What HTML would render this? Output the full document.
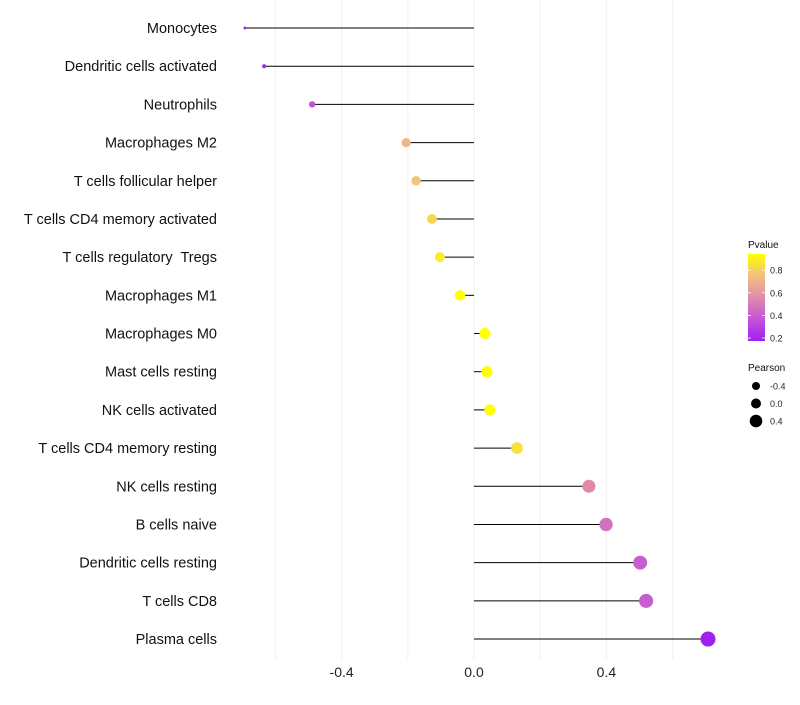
<!DOCTYPE html>
<html><head><meta charset="utf-8"><style>
body{margin:0;background:#fff;font-family:"Liberation Sans",sans-serif;}
</style></head><body>
<svg id="c" width="800" height="700"></svg>
<script>
const categories=["Monocytes","Dendritic cells activated","Neutrophils","Macrophages M2","T cells follicular helper","T cells CD4 memory activated","T cells regulatory  Tregs","Macrophages M1","Macrophages M0","Mast cells resting","NK cells activated","T cells CD4 memory resting","NK cells resting","B cells naive","Dendritic cells resting","T cells CD8","Plasma cells"];
const pearson=[-0.692,-0.634,-0.489,-0.205,-0.175,-0.127,-0.103,-0.042,0.033,0.039,0.048,0.130,0.347,0.399,0.502,0.520,0.707];
const pvalues=[0.2,0.22,0.36,0.72,0.76,0.82,0.88,0.95,0.95,0.95,0.95,0.85,0.55,0.47,0.4,0.4,0.18];
const xTicks=[-0.4,0.0,0.4];
const xMinor=[-0.6,-0.2,0.2,0.6];
const legendP=[0.8,0.6,0.4,0.2];
const legendS=[-0.4,0.0,0.4];
const NS="http://www.w3.org/2000/svg";
const svg=document.getElementById('c');
const xs=v=>474+v*331;
const ys=i=>28+i*38.19;
const rs=v=>Math.sqrt(Math.max(2.25,29.1+38.8*v));
const stops=[[160,32,240],[196,84,216],[224,140,168],[242,192,128],[255,255,0]];
function col(p){const t=Math.max(0,Math.min(1,(p-0.18)/0.76))*4;const i=Math.min(3,Math.floor(t)),f=t-i;
const a=stops[i],b=stops[i+1];return `rgb(${a.map((x,k)=>Math.round(x+(b[k]-x)*f)).join(',')})`;}
function mk(t,at,parent){const e=document.createElementNS(NS,t);for(const k in at)e.setAttribute(k,at[k]);(parent||svg).appendChild(e);return e;}
xMinor.forEach(v=>{const l=mk('line',{x1:xs(v),x2:xs(v),y1:0,y2:660,stroke:'#f2f2f2','stroke-width':1});

});
xTicks.forEach(v=>{const l=mk('line',{x1:xs(v),x2:xs(v),y1:0,y2:660,stroke:'#f2f2f2','stroke-width':1});


const t=mk('text',{x:xs(v),y:677,'text-anchor':'middle','font-size':14,fill:'#222'});t.textContent=v.toFixed(1);

});
categories.forEach((c,i)=>{const y=ys(i);
const t=mk('text',{x:217,y:y+5,'text-anchor':'end','font-size':14.5,fill:'#111'});t.textContent=c;
t.style.whiteSpace='pre';


const l=mk('line',{x1:xs(0),x2:xs(pearson[i]),y1:y,y2:y,stroke:'#000','stroke-width':1});


const d=mk('circle',{cx:xs(pearson[i]),cy:y,r:rs(pearson[i]),fill:col(pvalues[i])});

});
const g=mk('g',{});
const tt=mk('text',{x:748,y:248,'font-size':10,fill:'#111'},g);tt.textContent='Pvalue';
const defs=mk('defs',{},svg);const gr=mk('linearGradient',{id:'pg',x1:0,y1:1,x2:0,y2:0},defs);
stops.forEach((s,i)=>mk('stop',{offset:i/4,'stop-color':`rgb(${s.join(',')})`},gr));
mk('rect',{x:748,y:254,width:17,height:87,fill:'url(#pg)'},g);
legendP.forEach(p=>{const y=338-(p-0.2)/0.2*22.6;
mk('line',{x1:748,x2:751,y1:y,y2:y,stroke:'#fff','stroke-width':0.8},g);mk('line',{x1:762,x2:765,y1:y,y2:y,stroke:'#fff','stroke-width':0.8},g);
const t=mk('text',{x:770,y:y+3.5,'font-size':9,fill:'#222'},g);t.textContent=p.toFixed(1);});
const g2=mk('g',{});
const t2=mk('text',{x:748,y:371,'font-size':10,fill:'#111'},g2);t2.textContent='Pearson';
legendS.forEach((v,i)=>{const y=386+i*17.5;mk('circle',{cx:756,cy:y,r:[4,5,6.3][i],fill:'#000'},g2);
const t=mk('text',{x:770,y:y+3.5,'font-size':9,fill:'#222'},g2);t.textContent=v.toFixed(1);});
</script>
</body></html>
